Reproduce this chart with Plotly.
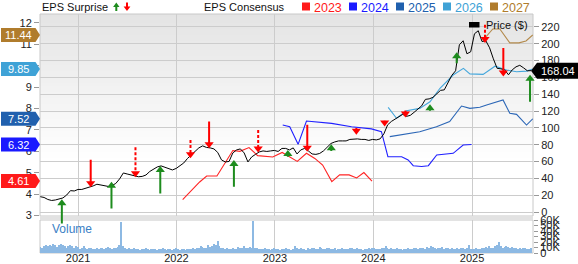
import plotly.graph_objects as go
import pandas as pd

# ---------------- data ----------------
price_start = "2020-08-14"          # bi-weekly closes
price_values = [
    18.2, 17.3, 14.9, 13.7, 14.3, 15.5, 16.7, 20.2, 25.4, 25.0,
    26.8, 26.8, 28.0, 29.2, 31.0, 33.0, 32.1, 31.0, 30.4, 31.5,
    33.9, 39.3, 46.4, 45.2, 44.0, 42.9, 41.9, 42.3, 44.0, 48.2,
    51.2, 53.6, 54.8, 53.0, 51.8, 50.0, 51.8, 54.8, 58.3, 63.7,
    67.9, 71.4, 76.2, 78.6, 76.8, 76.2, 75.0, 70.8, 61.9, 59.5,
    60.1, 70.2, 73.8, 75.0, 70.2, 59.5, 65.5, 68.5, 71.4, 72.6,
    72.0, 72.6, 73.2, 72.0, 75.6, 75.6, 73.8, 76.2, 69.0, 73.8,
    75.6, 72.6, 69.0, 68.5, 69.6, 72.6, 77.4, 81.5, 83.3, 84.5,
    84.5, 84.5, 86.3, 86.9, 86.9, 86.3, 86.3, 85.1, 86.3, 85.7,
    86.9, 92.9, 103.6, 107.7, 110.7, 113.1, 116.1, 113.7, 114.9, 118.5,
    122.0, 126.2, 133.9, 134.5, 136.3, 139.9, 144.6, 145.2, 154.8, 162.5,
    167.9, 198.8, 203.6, 188.1, 190.5, 211.9, 215.5, 202.7, 203.6, 195.2,
    182.1, 170.8, 170.2, 169.0, 163.1, 169.0, 172.6, 174.4, 171.4, 167.9,
    168.04,
]

volume_start = "2020-08-14"         # weekly volume, thousands
volume_k = [
    11, 10, 12, 15, 13, 14, 12, 16, 15, 11,
    14, 16, 15, 12, 10, 13, 14, 12, 9, 13,
    11, 8, 10, 12, 9, 8, 9, 10, 8, 7,
    9, 8, 10, 9, 8, 9, 11, 10, 8, 9,
    10, 11, 14, 56, 12, 9, 8, 9, 7, 8,
    9, 7, 8, 6, 8, 7, 9, 8, 6, 7,
    8, 7, 6, 8, 7, 9, 7, 6, 8, 7,
    6, 8, 9, 7, 6, 8, 7, 5, 7, 8,
    7, 9, 8, 10, 9, 12, 11, 9, 10, 14,
    11, 13, 16, 15, 22, 12, 10, 9, 8, 10,
    7, 8, 9, 7, 8, 11, 10, 9, 12, 10,
    9, 11, 10, 59, 10, 9, 8, 7, 8, 9,
    7, 8, 6, 7, 9, 8, 7, 6, 8, 7,
    9, 8, 7, 6, 8, 13, 10, 8, 9, 7,
    8, 6, 9, 8, 10, 9, 7, 8, 11, 9,
    8, 7, 9, 10, 8, 7, 9, 6, 8, 7,
    9, 8, 7, 8, 10, 9, 8, 7, 9, 8,
    7, 6, 8, 7, 9, 8, 10, 9, 8, 7,
    8, 9, 10, 13, 10, 8, 9, 7, 8, 9,
    7, 8, 6, 7, 8, 9, 7, 8, 9, 10,
    8, 9, 10, 9, 8, 11, 10, 12, 11, 9,
    8, 10, 9, 11, 8, 9, 10, 8, 9, 7,
    8, 9, 8, 10, 9, 8, 9, 15, 8, 7,
    8, 9, 7, 8, 9, 10, 11, 10, 12, 9,
    10, 13, 15, 20, 12, 10, 11, 12, 11, 10,
    11, 9, 10, 8, 9, 8, 9, 10, 8, 7,
    10,
]

eps2023_dates = ["2022-01-24", "2022-03-28", "2022-04-23", "2022-05-31", "2022-07-29",
                 "2022-08-24", "2022-09-27", "2022-10-29", "2022-12-24", "2023-01-28",
                 "2023-03-25", "2023-04-28", "2023-05-29", "2023-06-27", "2023-07-31",
                 "2023-08-29", "2023-10-03", "2023-10-31", "2023-11-27", "2023-12-27"]
eps2023 = [3.75, 4.57, 4.85, 4.85, 6.04, 6.00, 6.18, 5.80, 5.74, 5.95,
           5.53, 5.91, 5.67, 5.36, 4.59, 4.90, 4.90, 4.76, 5.01, 4.61]

eps2024_dates = ["2023-01-30", "2023-02-25", "2023-03-28", "2023-04-28", "2023-07-30",
                 "2023-10-12", "2023-12-25", "2024-01-31", "2024-02-24", "2024-04-15",
                 "2024-05-09", "2024-05-28", "2024-06-28", "2024-07-23", "2024-08-23",
                 "2024-10-23", "2024-11-29", "2024-12-30"]
eps2024 = [7.23, 7.15, 6.33, 7.42, 7.31, 7.15, 7.05, 6.92, 5.75, 5.75,
           5.60, 5.33, 5.29, 5.33, 5.83, 5.91, 6.30, 6.32]

eps2025_dates = ["2024-03-02", "2024-04-08", "2024-06-21", "2024-08-22", "2024-10-10",
                 "2024-11-23", "2024-12-24", "2025-01-30", "2025-02-24", "2025-04-26",
                 "2025-05-21", "2025-06-15", "2025-07-22", "2025-08-14"]
eps2025 = [6.69, 6.77, 6.92, 7.15, 7.39, 8.12, 8.01, 8.06, 8.17, 8.40,
           7.78, 7.73, 7.23, 7.52]

eps2026_dates = ["2024-02-25", "2024-03-27", "2024-05-03", "2024-06-21", "2024-07-29",
                 "2024-09-04", "2024-10-23", "2024-11-30", "2024-12-24", "2025-02-11",
                 "2025-03-27", "2025-05-09", "2025-06-15", "2025-07-22", "2025-08-14"]
eps2026 = [8.06, 7.55, 7.90, 8.01, 8.32, 8.95, 9.57, 9.88, 9.62, 9.60,
           9.98, 9.80, 9.72, 9.75, 9.85]

eps2027_dates = ["2025-02-14", "2025-03-19", "2025-04-14", "2025-05-21", "2025-06-24",
                 "2025-07-20", "2025-08-14"]
eps2027 = [11.25, 11.72, 11.72, 11.07, 11.07, 11.16, 11.44]

surprise_dates = ["2020-11-02", "2021-02-17", "2021-05-05", "2021-08-02", "2021-11-02",
                  "2022-02-22", "2022-05-02", "2022-08-02", "2022-10-31", "2023-02-18",
                  "2023-05-01", "2023-07-29", "2023-10-30", "2024-02-12", "2024-04-29",
                  "2024-07-29", "2024-11-05", "2025-02-18", "2025-04-27", "2025-08-04"]
surprise_tail = [-15.5, 63.9, 2.4, 77.0, 20.2, 85.7, 109.5, 28.2, 97.6, 63.9,
                 105.5, 70.6, 101.5, 110.2, 122.6, 118.6, 175.0, 222.6, 196.8, 129.4]
surprise_tip = [15.1, 29.4, 36.1, 41.3, 54.8, 63.9, 75.8, 61.9, 70.6, 73.8,
                71.7, 80.5, 91.8, 101.5, 112.3, 128.0, 189.9, 200.8, 161.1, 163.1]
surprise_beat = [1, 0, 1, 0, 1, 0, 0, 1, 0, 1, 0, 1, 0, 0, 0, 1, 1, 0, 0, 1]
surprise_dashed = [0, 0, 0, 1, 0, 1, 0, 0, 1, 0, 0, 0, 0, 0, 0, 0, 0, 1, 0, 0]

year_ticks = ["2021-01-01", "2022-01-01", "2023-01-01", "2024-01-01", "2025-01-01"]
year_labels = ["2021", "2022", "2023", "2024", "2025"]
eps_ticks = [3, 4, 5, 6, 7, 8, 9, 10, 11, 12]
price_ticks = [0, 20, 40, 60, 80, 100, 120, 140, 160, 180, 200, 220]
vol_ticks = [0, 10000, 20000, 30000, 40000, 50000, 60000]
vol_labels = ["0", "10K", "20K", "30K", "40K", "50K", "60K"]

# ---------------- geometry / style ----------------
W, H = 578, 264
ML, MR, MT, MB = 40, 45, 14, 11
PW, PH = W - ML - MR, H - MT - MB
FONT = "Liberation Sans, Arial, sans-serif"


def fx(px):
    return (px - ML) / PW


def fy(py):
    return (H - MB - py) / PH


main_domain = [fy(216), 1.0]
vol_domain = [0.0, fy(220)]
eps_range = [2.98, 12.42]
price_range = [-4.76, 235.4]
eps_px = (216 - 14) / (eps_range[1] - eps_range[0])
price_px = (216 - 14) / (price_range[1] - price_range[0])

GREEN = "#1e8c1e"
RED = "#ff0000"
series = [
    ("2023", eps2023_dates, eps2023, "#ff2424", "#ff1a1a"),
    ("2024", eps2024_dates, eps2024, "#2020ff", "#1a1aff"),
    ("2025", eps2025_dates, eps2025, "#2b66b6", "#2060ae"),
    ("2026", eps2026_dates, eps2026, "#45a7dc", "#3fa2d6"),
    ("2027", eps2027_dates, eps2027, "#b38a4c", "#b07c2c"),
]

price_dates = pd.date_range(price_start, periods=len(price_values), freq="14D")
vol_dates = pd.date_range(volume_start, periods=len(volume_k), freq="7D")

fig = go.Figure()

fig.add_trace(go.Bar(x=vol_dates, y=[v * 1000 for v in volume_k], yaxis="y3",
                     marker=dict(color="#8db9e3", line=dict(width=0)),
                     width=5 * 86400000, hoverinfo="skip"))

for name, d, v, col, _ in series:
    fig.add_trace(go.Scatter(x=d, y=v, yaxis="y", mode="lines",
                             line=dict(color=col, width=1.1), hoverinfo="skip"))

fig.add_trace(go.Scatter(x=price_dates, y=price_values, yaxis="y2", mode="lines",
                         line=dict(color="#000000", width=1), hoverinfo="skip"))

# arrows
head_off = 4.0 / price_px
dash_x, dash_y = [], []
up_x, up_y, dn_x, dn_y = [], [], [], []
annotations = []
for d, tail, tip, beat, dashed in zip(surprise_dates, surprise_tail, surprise_tip,
                                      surprise_beat, surprise_dashed):
    center = tip - head_off if beat else tip + head_off
    if beat:
        up_x.append(d); up_y.append(center)
    else:
        dn_x.append(d); dn_y.append(center)
    if dashed:
        dash_x += [d, d, None]
        dash_y += [tail, center, None]
    else:
        annotations.append(dict(x=d, y=center, xref="x", yref="y2", ax=d, ay=tail,
                                axref="x", ayref="y2", showarrow=True, arrowhead=0,
                                arrowwidth=2, arrowcolor=GREEN if beat else RED,
                                text="", standoff=0, startstandoff=0))

fig.add_trace(go.Scatter(x=dash_x, y=dash_y, yaxis="y2", mode="lines",
                         line=dict(color=RED, width=2, dash="3px,2px"), hoverinfo="skip"))
fig.add_trace(go.Scatter(x=up_x, y=up_y, yaxis="y2", mode="markers", cliponaxis=False,
                         marker=dict(symbol="triangle-up", size=8, color=GREEN,
                                     line=dict(width=0)), hoverinfo="skip"))
fig.add_trace(go.Scatter(x=dn_x, y=dn_y, yaxis="y2", mode="markers", cliponaxis=False,
                         marker=dict(symbol="triangle-down", size=8, color=RED,
                                     line=dict(width=0)), hoverinfo="skip"))

shapes = []
# background gradient in main panel
n_bands = 49
for k in range(n_bands):
    g = int(round(228 + (255 - 228) * k / (n_bands - 1)))
    shapes.append(dict(type="rect", xref="paper", yref="paper", x0=0, x1=1,
                       y0=fy(14 + (k + 1) * 3), y1=fy(14 + k * 3),
                       fillcolor=f"rgb({g},{g},{g})", line=dict(width=0), layer="below"))
# band between panels
shapes.append(dict(type="rect", xref="paper", yref="paper", x0=0, x1=1,
                   y0=vol_domain[1], y1=main_domain[0], fillcolor="#e2e2e2",
                   line=dict(width=0), layer="above"))
# panel borders
for y0, y1 in (main_domain, vol_domain):
    shapes.append(dict(type="rect", xref="paper", yref="paper", x0=0, x1=1, y0=y0, y1=y1,
                       line=dict(color="#c8c8c8", width=1), layer="below"))

# header legend: EPS surprise arrows
shapes.append(dict(type="path", xref="paper", yref="paper",
                   path=f"M{fx(115.3)},{fy(11)} L{fx(117.3)},{fy(11)} L{fx(117.3)},{fy(7)} "
                        f"L{fx(119.5)},{fy(7)} L{fx(116.3)},{fy(2.5)} L{fx(113.1)},{fy(7)} "
                        f"L{fx(115.3)},{fy(7)} Z",
                   fillcolor=GREEN, line=dict(width=0), layer="above"))
shapes.append(dict(type="path", xref="paper", yref="paper",
                   path=f"M{fx(126)},{fy(2.5)} L{fx(128)},{fy(2.5)} L{fx(128)},{fy(6.5)} "
                        f"L{fx(130.4)},{fy(6.5)} L{fx(127)},{fy(11)} L{fx(123.6)},{fy(6.5)} "
                        f"L{fx(126)},{fy(6.5)} Z",
                   fillcolor=RED, line=dict(width=0), layer="above"))
annotations.append(dict(x=fx(40), y=fy(7), xref="paper", yref="paper", text="EPS Surprise",
                        xanchor="left", yanchor="middle", showarrow=False,
                        font=dict(family=FONT, size=11, color="#111")))
annotations.append(dict(x=fx(202), y=fy(7), xref="paper", yref="paper", text="EPS Consensus",
                        xanchor="left", yanchor="middle", showarrow=False,
                        font=dict(family=FONT, size=11, color="#111")))
for i, (name, d, v, col, bcol) in enumerate(series):
    sx = 302 + 47 * i
    shapes.append(dict(type="rect", xref="paper", yref="paper", x0=fx(sx), x1=fx(sx + 8),
                       y0=fy(10.5), y1=fy(2.5), fillcolor=bcol, line=dict(width=0), layer="above"))
    annotations.append(dict(x=fx(sx + 9.5), y=fy(7.5), xref="paper", yref="paper", text=name,
                            xanchor="left", yanchor="middle", showarrow=False,
                            font=dict(family=FONT, size=12.5, color=bcol)))

# price legend inside plot
shapes.append(dict(type="rect", xref="paper", yref="paper", x0=fx(469), x1=fx(479.5),
                   y0=fy(27.5), y1=fy(22), fillcolor="#000", line=dict(width=0), layer="above"))
annotations.append(dict(x=fx(484), y=fy(25), xref="paper", yref="paper", text="Price ($)",
                        xanchor="left", yanchor="middle", showarrow=False,
                        font=dict(family=FONT, size=11, color="#111")))
annotations.append(dict(x=fx(50), y=fy(229), xref="paper", yref="paper", text="Volume",
                        xanchor="left", yanchor="middle", showarrow=False,
                        font=dict(family=FONT, size=12, color="#3a80c5")))

# left badges (last consensus values)
hh = 7.0 / eps_px
for name, d, v, col, bcol in series:
    val = v[-1]
    shapes.append(dict(type="path", xref="paper", yref="y",
                       path=f"M{fx(1)},{val + hh} L{fx(35.5)},{val + hh} L{fx(40)},{val} "
                            f"L{fx(35.5)},{val - hh} L{fx(1)},{val - hh} Z",
                       fillcolor=bcol, line=dict(width=0), layer="above"))
    annotations.append(dict(x=fx(18.5), y=val, xref="paper", yref="y", text=f"{val:.2f}",
                            xanchor="center", yanchor="middle", showarrow=False,
                            font=dict(family=FONT, size=11, color="#ffffff")))

# right price badge
last_price = price_values[-1]
ph = 8.0 / price_px
shapes.append(dict(type="path", xref="paper", yref="y2",
                   path=f"M{fx(531)},{last_price} L{fx(537)},{last_price + ph} "
                        f"L{fx(578)},{last_price + ph} L{fx(578)},{last_price - ph} "
                        f"L{fx(537)},{last_price - ph} Z",
                   fillcolor="#000000", line=dict(width=0), layer="above"))
annotations.append(dict(x=fx(557.5), y=last_price, xref="paper", yref="y2",
                        text=f"{last_price:.2f}", xanchor="center", yanchor="middle",
                        showarrow=False, font=dict(family=FONT, size=11, color="#ffffff")))

tickfont = dict(family=FONT, size=11, color="#222")
fig.update_layout(
    width=W, height=H, margin=dict(l=ML, r=MR, t=MT, b=MB),
    paper_bgcolor="#ffffff", plot_bgcolor="rgba(0,0,0,0)",
    showlegend=False, bargap=0, hovermode=False,
    shapes=shapes, annotations=annotations,
    xaxis=dict(type="date", range=["2020-08-13", "2025-08-15"], anchor="y3",
               tickvals=year_ticks, ticktext=year_labels, ticks="", showgrid=True,
               gridcolor="#cccccc", gridwidth=1, zeroline=False, showline=False,
               tickfont=tickfont, automargin=False, ticklabelstandoff=-3),
    yaxis=dict(domain=main_domain, range=eps_range, anchor="x", tickvals=eps_ticks,
               ticks="outside", ticklen=5, tickcolor="#999", showgrid=False,
               zeroline=False, showline=False, tickfont=tickfont, automargin=False),
    yaxis2=dict(domain=main_domain, range=price_range, anchor="x", overlaying="y",
                side="right", tickvals=price_ticks, ticks="outside", ticklen=5,
                tickcolor="#999", showgrid=True, gridcolor="#cccccc", gridwidth=1,
                zeroline=False, showline=False, tickfont=tickfont, automargin=False),
    yaxis3=dict(domain=vol_domain, range=[0, 60000], anchor="x", side="right",
                tickvals=vol_ticks, ticktext=vol_labels, ticks="outside", ticklen=4,
                tickcolor="#999", showgrid=False, zeroline=False, showline=False,
                tickfont=tickfont, automargin=False),
)

fig.write_html("out.html")
